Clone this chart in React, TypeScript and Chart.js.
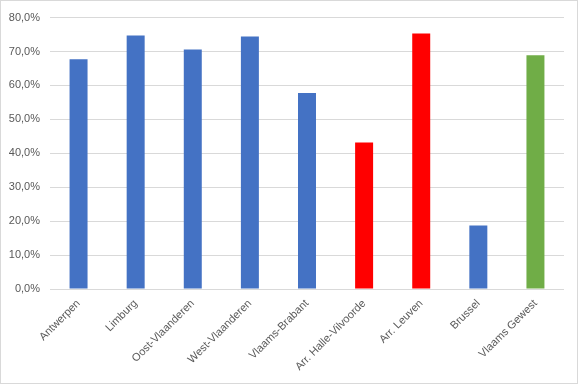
import React, { useEffect, useRef } from "react";
import { Chart, registerables } from "chart.js";

Chart.register(...registerables);

const categories = [
  "Antwerpen",
  "Limburg",
  "Oost-Vlaanderen",
  "West-Vlaanderen",
  "Vlaams-Brabant",
  "Arr. Halle-Vilvoorde",
  "Arr. Leuven",
  "Brussel",
  "Vlaams Gewest",
];
const values = [67.7, 74.7, 70.6, 74.4, 57.8, 43.2, 75.3, 18.7, 68.9];
const barColors = [
  "#4472C4",
  "#4472C4",
  "#4472C4",
  "#4472C4",
  "#4472C4",
  "#FF0000",
  "#FF0000",
  "#4472C4",
  "#70AD47",
];
const yMax = 80;
const yStep = 10;

export default function App() {
  const ref = useRef<HTMLCanvasElement>(null);
  useEffect(() => {
    document.body.style.margin = "0";
    const font = { family: "'Liberation Sans', Arial, sans-serif", size: 11 };
    const chart = new Chart(ref.current!, {
      type: "bar",
      data: {
        labels: categories,
        datasets: [
          {
            data: values,
            backgroundColor: barColors,
            categoryPercentage: 1,
            barPercentage: 0.315,
          },
        ],
      },
      options: {
        animation: false,
        responsive: false,
        maintainAspectRatio: false,
        layout: { padding: { top: 12, right: 13, bottom: 0, left: 0 } },
        plugins: { legend: { display: false }, tooltip: { enabled: false } },
        scales: {
          x: {
            grid: { display: false, drawTicks: false },
            border: { display: false },
            ticks: {
              color: "#595959",
              font,
              minRotation: 45,
              maxRotation: 45,
              padding: 8,
              autoSkip: false,
            },
            afterFit: (s: any) => {
              s.height = 94;
            },
          },
          y: {
            min: 0,
            max: yMax,
            grid: { color: "#d9d9d9", drawTicks: false },
            border: { display: false },
            ticks: {
              stepSize: yStep,
              color: "#595959",
              font,
              padding: 10,
              callback: (v: any) => Number(v).toFixed(1).replace(".", ",") + "%",
            },
            afterFit: (s: any) => {
              s.width = 49;
            },
          },
        },
      },
    });
    return () => chart.destroy();
  }, []);
  return (
    <div
      style={{
        position: "fixed",
        left: 0,
        top: 0,
        width: 578,
        height: 384,
        boxSizing: "border-box",
        border: "1px solid #d9d9d9",
        background: "#fff",
      }}
    >
      <canvas
        ref={ref}
        width={576}
        height={382}
        style={{ display: "block", width: 576, height: 382 }}
      />
    </div>
  );
}
